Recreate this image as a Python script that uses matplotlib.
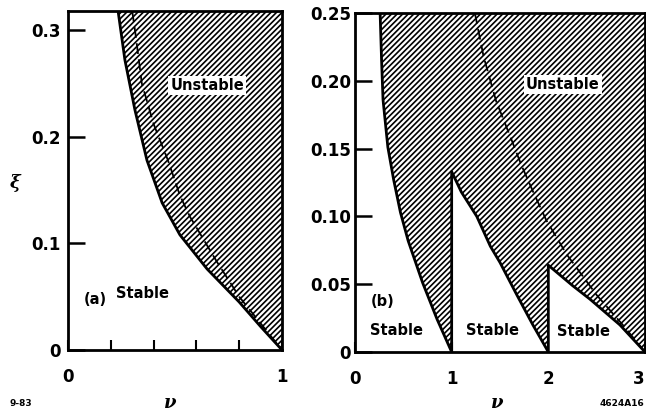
import numpy as np
import matplotlib
matplotlib.use("Agg")
import matplotlib.pyplot as plt

# panel (a): stability boundary (solid) and dashed curve, nu vs xi
nu_a_solid = [0.234, 0.250, 0.266, 0.313, 0.369, 0.44, 0.523, 0.65, 0.80, 0.90, 1.0]
xi_a_solid = [0.318, 0.295, 0.272, 0.225, 0.178, 0.138, 0.108, 0.076, 0.045, 0.022, 0.0]
nu_a_dash = [0.30, 0.315, 0.345, 0.40, 0.467, 0.523, 0.57, 0.695, 0.80, 0.90, 1.0]
xi_a_dash = [0.318, 0.297, 0.25, 0.212, 0.178, 0.145, 0.125, 0.083, 0.05, 0.025, 0.0]

# panel (b): three boundary branches and dashed curve
nu_b1 = [0.26, 0.275, 0.29, 0.34, 0.40, 0.47, 0.55, 0.70, 0.85, 1.0]
xi_b1 = [0.25, 0.215, 0.186, 0.151, 0.127, 0.103, 0.082, 0.051, 0.024, 0.0]
nu_b2 = [1.0, 1.1, 1.26, 1.40, 1.50, 1.675, 1.84, 2.0]
xi_b2 = [0.133, 0.118, 0.10, 0.078, 0.066, 0.042, 0.02, 0.0]
nu_b3 = [2.0, 2.25, 2.43, 2.74, 3.0]
xi_b3 = [0.064, 0.049, 0.039, 0.02, 0.0]
nu_b_dash = [1.24, 1.33, 1.46, 1.60, 1.72, 1.85, 1.98, 2.19, 2.50, 2.77, 3.0]
xi_b_dash = [0.25, 0.218, 0.185, 0.160, 0.138, 0.117, 0.097, 0.072, 0.042, 0.020, 0.0]

plt.rcParams['font.family'] = ['DejaVu Sans']
plt.rcParams['hatch.linewidth'] = 1.2

W, H = 646, 416
fig = plt.figure(figsize=(W / 100, H / 100), dpi=100)

def frac(x0, y0, x1, y1):
    return [x0 / W, 1 - y1 / H, (x1 - x0) / W, (y1 - y0) / H]

lab = dict(fontsize=12, fontweight='bold')
txt = dict(fontsize=10.5, fontweight='bold', ha='center', va='center')
HATCH = '//////'

def style(ax):
    for s in ax.spines.values():
        s.set_linewidth(2.0)

# ---- (a) ----
ax1 = fig.add_axes(frac(68, 11, 282, 350))
ax1.set_xlim(0, 1)
ax1.set_ylim(0, 0.318)
ax1.fill_between(nu_a_solid, xi_a_solid, 0.318, facecolor='white',
                 edgecolor='black', hatch=HATCH, linewidth=0)
ax1.plot(nu_a_solid, xi_a_solid, 'k-', lw=2.0, solid_capstyle='round')
ax1.plot(nu_a_dash, xi_a_dash, 'k-', lw=1.3, dashes=(6, 3))
ax1.set_yticks([0, 0.1, 0.2, 0.3])
ax1.set_yticklabels(['0', '0.1', '0.2', '0.3'], **lab)
ax1.set_xticks([0, 1])
ax1.set_xticklabels(['0', '1'], **lab)
ax1.set_xticks([0.2, 0.4, 0.6, 0.8], minor=True)
ax1.tick_params(axis='y', direction='in', length=12, width=1.8, pad=5)
ax1.tick_params(axis='x', which='both', direction='in', length=7, width=1.5, pad=13)
sec = ax1.secondary_yaxis('right')
sec.set_yticks([0.1, 0.2, 0.3])
sec.tick_params(direction='in', length=7, width=1.5, labelright=False)
sec.spines['right'].set_visible(False)
sect = ax1.secondary_xaxis('top')
sect.set_xticks([0.4, 0.6, 0.8])
sect.tick_params(direction='in', length=5, width=1.5, labeltop=False)
sect.spines['top'].set_visible(False)
style(ax1)
ax1.text(0.65, 0.248, 'Unstable', bbox=dict(facecolor='white', edgecolor='none', pad=1.5), **txt)
ax1.text(0.35, 0.053, 'Stable', **txt)
ax1.text(0.126, 0.047, '(a)', **txt)

# ---- (b) ----
ax2 = fig.add_axes(frac(355, 13, 645, 352))
ax2.set_xlim(0, 3)
ax2.set_ylim(0, 0.25)
nu_b = nu_b1 + nu_b2 + nu_b3
xi_b = xi_b1 + xi_b2 + xi_b3
ax2.fill_between(nu_b, xi_b, 0.25, facecolor='white',
                 edgecolor='black', hatch=HATCH, linewidth=0)
ax2.plot(nu_b, xi_b, 'k-', lw=2.0)
ax2.plot(nu_b_dash, xi_b_dash, 'k-', lw=1.3, dashes=(6, 3))
ax2.set_yticks([0, 0.05, 0.10, 0.15, 0.20, 0.25])
ax2.set_yticklabels(['0', '0.05', '0.10', '0.15', '0.20', '0.25'], **lab)
ax2.set_xticks([0, 1, 2, 3])
ax2.set_xticklabels(['0', '1', '2', '3'], **lab)
ax2.get_xticklabels()[-1].set_horizontalalignment('right')
ax2.tick_params(axis='y', direction='in', length=12, width=1.8, pad=3)
ax2.tick_params(axis='x', direction='in', length=7, width=1.5, pad=13)
sec2 = ax2.secondary_yaxis('right')
sec2.set_yticks([0.05, 0.10, 0.15, 0.20])
sec2.tick_params(direction='in', length=7, width=1.5, labelright=False)
sec2.spines['right'].set_visible(False)
style(ax2)
ax2.text(2.15, 0.197, 'Unstable', bbox=dict(facecolor='white', edgecolor='none', pad=1.5), **txt)
ax2.text(0.29, 0.037, '(b)', **txt)
ax2.text(0.43, 0.016, 'Stable', **txt)
ax2.text(1.42, 0.016, 'Stable', **txt)
ax2.text(2.36, 0.015, 'Stable', **txt)

# axis labels and figure codes
fig.text(15 / W, 1 - 183 / H, 'ξ', fontsize=13, family='DejaVu Serif', style='italic',
         fontweight='bold', ha='center', va='center')
fig.text(170 / W, 1 - 403 / H, 'ν', fontsize=13, family='DejaVu Serif', style='italic',
         fontweight='bold', ha='center', va='center')
fig.text(497 / W, 1 - 403 / H, 'ν', fontsize=13, family='DejaVu Serif', style='italic',
         fontweight='bold', ha='center', va='center')
fig.text(10 / W, 1 - 403 / H, '9-83', fontsize=6.5, fontweight='bold', ha='left', va='center')
fig.text(644 / W, 1 - 403 / H, '4624A16', fontsize=6.5, fontweight='bold', ha='right', va='center')

fig.savefig('out.png', dpi=100)
